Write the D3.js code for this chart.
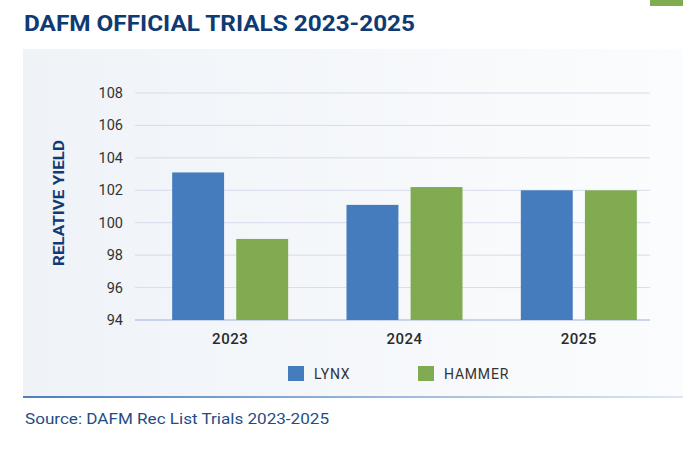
<html>
<head>
<meta charset="UTF-8">
<script src="https://d3js.org/d3.v7.min.js"></script>
<style>body{margin:0;background:#fff;}</style>
</head>
<body>
<svg width="683" height="450"></svg>
<script>
var years = ["2023", "2024", "2025"];
var seriesNames = ["LYNX", "HAMMER"];
var lynx = [103.1, 101.1, 102.0];
var hammer = [99.0, 102.2, 102.0];
var yTicks = [94, 96, 98, 100, 102, 104, 106, 108];
var colors = ["#447cbd", "#80ab50"];

var svg = d3.select("svg");
var font = "Roboto, 'Noto Sans', sans-serif";

// panel background
var defs = svg.append("defs");
var bg = defs.append("linearGradient").attr("id", "bg");
bg.append("stop").attr("offset", "0%").attr("stop-color", "#eff3f8");
bg.append("stop").attr("offset", "100%").attr("stop-color", "#fbfcfd");
var ln = defs.append("linearGradient").attr("id", "ln");
ln.append("stop").attr("offset", "0%").attr("stop-color", "#4a80bd");
ln.append("stop").attr("offset", "100%").attr("stop-color", "#dce7f2");
svg.append("rect").attr("x", 23).attr("y", 49).attr("width", 660).attr("height", 348).attr("fill", "url(#bg)");
svg.append("rect").attr("x", 23).attr("y", 396).attr("width", 660).attr("height", 2).attr("fill", "url(#ln)");
svg.append("rect").attr("x", 650).attr("y", 0).attr("width", 33).attr("height", 6).attr("fill", "#80ab50");

svg.append("text").attr("x", 24).attr("y", 31).text("DAFM OFFICIAL TRIALS 2023-2025")
  .attr("textLength", 391).attr("lengthAdjust", "spacingAndGlyphs")
  .attr("font-family", font).attr("font-weight", "bold").attr("font-size", 22).attr("fill", "#0f3a73");

var y = d3.scaleLinear().domain([94, 108]).range([320, 93]);
var x0 = d3.scaleBand().domain(years).range([143, 666]);
var x1 = d3.scaleBand().domain(seriesNames).range([0, 116]).paddingInner(0.19);

var g = svg.append("g");
g.selectAll(".grid").data(yTicks).enter().append("line")
  .attr("x1", 135).attr("x2", 650)
  .attr("y1", function(d){ return y(d); }).attr("y2", function(d){ return y(d); })
  .attr("stroke", function(d){ return d === 94 ? "#b9c8e6" : "#d5dceb"; })
  .attr("stroke-width", function(d){ return d === 94 ? 1.5 : 1; });
g.selectAll(".yl").data(yTicks).enter().append("text")
  .attr("x", 123).attr("y", function(d){ return y(d) + 5; })
  .attr("text-anchor", "end").text(function(d){ return d; })
  .attr("font-family", font).attr("font-size", 14.5).attr("fill", "#333");

var rows = years.map(function(yr, i){ return [lynx[i], hammer[i]]; });
var gs = g.selectAll(".grp").data(rows).enter().append("g")
  .attr("transform", function(d, i){ return "translate(" + (x0(years[i]) + (x0.bandwidth() - 116) / 2) + ",0)"; });
gs.selectAll("rect").data(function(d){ return d; }).enter().append("rect")
  .attr("x", function(d, j){ return x1(seriesNames[j]); })
  .attr("width", x1.bandwidth())
  .attr("y", function(d){ return y(d); })
  .attr("height", function(d){ return y(94) - y(d); })
  .attr("fill", function(d, j){ return colors[j]; });

g.selectAll(".xl").data(years).enter().append("text")
  .attr("x", function(d){ return x0(d) + x0.bandwidth() / 2; }).attr("y", 344)
  .attr("text-anchor", "middle").text(function(d){ return d; })
  .attr("font-family", font).attr("font-weight", 500).attr("font-size", 15).attr("letter-spacing", 0.5).attr("fill", "#2a2a2a");

svg.append("text").attr("transform", "translate(64,203) rotate(-90)")
  .attr("text-anchor", "middle").text("RELATIVE YIELD")
  .attr("textLength", 126).attr("lengthAdjust", "spacingAndGlyphs")
  .attr("font-family", font).attr("font-weight", "bold").attr("font-size", 14)
  .attr("fill", "#0f3a73");

var legX = [288, 418];
seriesNames.forEach(function(s, i){
  svg.append("rect").attr("x", legX[i]).attr("y", 366).attr("width", 16).attr("height", 15).attr("fill", colors[i]);
  svg.append("text").attr("x", legX[i] + 26).attr("y", 379).text(s)
    .attr("font-family", font).attr("font-size", 14).attr("letter-spacing", 0.8).attr("fill", "#333");
});

svg.append("text").attr("x", 25).attr("y", 424).text("Source: DAFM Rec List Trials 2023-2025")
  .attr("textLength", 304).attr("lengthAdjust", "spacingAndGlyphs")
  .attr("font-family", font).attr("font-size", 15).attr("fill", "#1f4d86");
</script>
</body>
</html>
